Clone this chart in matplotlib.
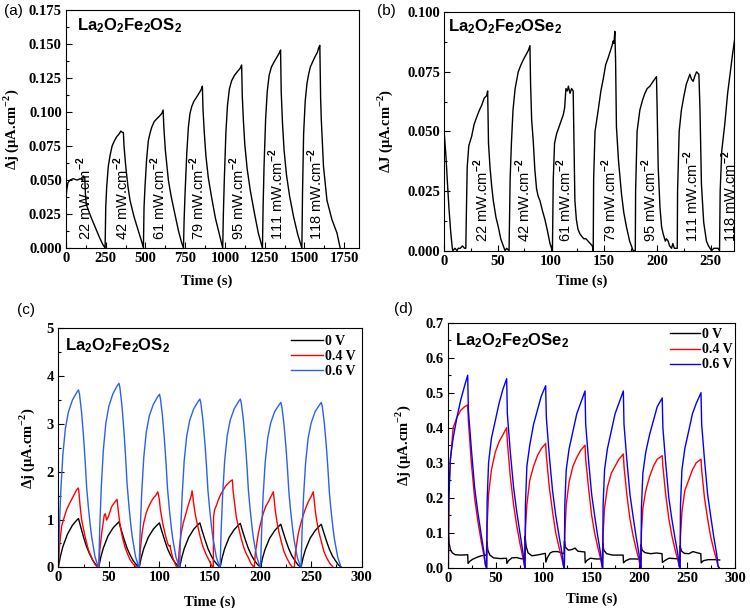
import matplotlib
matplotlib.use('Agg')
import matplotlib.pyplot as plt
from matplotlib.ticker import MultipleLocator, FormatStrFormatter, AutoMinorLocator

#
# Photocurrent response of La2O2Fe2OQ2 (Q = S, Se) films
#

plt.rcParams['font.family'] = 'Liberation Serif'
plt.rcParams['font.weight'] = 'bold'
plt.rcParams['mathtext.fontset'] = 'custom'
plt.rcParams['mathtext.rm'] = 'Liberation Serif:bold'
plt.rcParams['mathtext.bf'] = 'Liberation Sans:bold'
plt.rcParams['mathtext.sf'] = 'Liberation Sans'

#(a) La2O2Fe2OS2, different light intensities
a_time = [0, 5, 12, 25, 45, 70, 90, 105, 110, 118, 122, 128, 140, 160, 185, 210, 230, 246,
          250, 256, 266, 277, 290, 305, 320, 335, 345, 355, 361, 365, 376, 390, 403, 428, 460, 478, 487,
          491, 497, 507, 518, 530, 540, 555, 571, 588, 603, 611, 616, 625, 644, 660, 676, 707, 725, 739,
          743, 749, 760, 770, 780, 791, 805, 822, 843, 852, 858, 862, 870, 880, 895, 915, 940, 965, 986,
          990, 996, 1006, 1016, 1028, 1042, 1060, 1080, 1095, 1105, 1109, 1116, 1125, 1140, 1160, 1185, 1210, 1236,
          1240, 1246, 1256, 1266, 1278, 1292, 1310, 1330, 1345, 1350, 1354, 1362, 1372, 1387, 1407, 1432, 1458, 1484,
          1488, 1495, 1505, 1516, 1527, 1537, 1552, 1568, 1582, 1589, 1597, 1602, 1606, 1620, 1642, 1673, 1705, 1725]
a_dj = [.036, .043, .048, .050, .051, .050, .051, .050, .053, .052, .040, .032, .028, .022, .015, .008, .003, 0,
        .030, .045, .060, .068, .075, .079, .082, .084, .086, .085, .085, .075, .060, .045, .035, .023, .011, .004, 0,
        .030, .045, .065, .079, .085, .089, .093, .095, .097, .099, .1015, .088, .072, .050, .039, .030, .013, .005, 0,
        .020, .040, .070, .089, .099, .104, .108, .111, .115, .117, .119, .102, .085, .068, .052, .038, .022, .010, 0,
        .025, .050, .085, .105, .117, .123, .127, .130, .132, .1346, .112, .094, .076, .058, .042, .026, .011, 0,
        .030, .060, .095, .115, .127, .133, .137, .141, .144, .1456, .115, .092, .072, .054, .038, .023, .010, 0,
        .040, .084, .108, .121, .128, .133, .137, .141, .144, .147, .149, .110, .095, .060, .035, .021, .011, 0]
a_labels = ['22', '42', '61', '79', '95', '111', '118']
a_label_t = [52, 285, 518, 765, 1017, 1263, 1511]

#(b) La2O2Fe2OSe2, different light intensities
b_time = [0, 1.5, 3, 4.5, 6, 7.5, 8, 10, 12, 13, 15, 17, 19, 20.2,
          20.5, 21.5, 23, 25.7, 28, 30.4, 33, 35.1, 37.5, 39.7, 40.7, 41.5, 42.9, 44.5, 46, 48.5, 50.7, 53, 55.4, 57, 58.5, 60.8,
          61.8, 63, 64.5, 66.5, 69.4, 72, 74.1, 76.5, 78.9, 80.4, 81, 82, 83.5, 85, 86.6, 88, 89.8, 92, 94.5, 97, 99.2, 101.5,
          102.3, 103.5, 105.4, 108.5, 111.7, 113, 114.2, 115.5, 116.5, 118, 119.5, 121, 122, 122.6, 124, 125.5, 127.4, 129,
          131, 133, 135, 137, 139, 139.8,
          140.2, 141.5, 144.5, 147, 149.2, 151.5, 153.9, 156, 157.5, 158.6, 159.3, 160.1, 160.8, 161.6, 163.5, 166.3, 168.5,
          171, 174, 177.3, 179.3,
          179.6, 181, 183.6, 186, 188.3, 190.5, 193, 196, 199.2, 199.8, 200.8, 202.5, 204, 205.5, 207.5, 208.5, 210.2, 211.5,
          213.4, 214.5, 216, 218.7,
          219, 220.5, 222.6, 225, 227.3, 229, 230.5, 232, 233.6, 235, 236.8, 239, 240, 241.4, 243.5, 246.1, 248, 250.9,
          253, 255, 257, 258.4,
          259, 260.5, 263.3, 266, 268.5, 270.5, 272.7, 274]
b_dj = [.049, .040, .028, .017, .008, .001, 0, .001, 0, .001, .001, .002, .001, .001,
        .010, .035, .044, .048, .053, .056, .059, .061, .064, .065, .067, .045, .035, .027, .021, .014, .010, .005, .002, 0, .001, 0,
        .030, .045, .059, .068, .075, .078, .080, .082, .084, .086, .070, .055, .046, .034, .026, .023, .021, .017, .013, .008, .003, 0,
        .030, .045, .049, .053, .057, .060, .068, .067, .069, .066, .068, .067, .040, .021, .013, .009, .007, .006,
        .005, .005, .004, .003, .002, 0,
        .030, .050, .059, .067, .072, .078, .081, .084, .086, .088, .087, .092, .080, .052, .038, .024, .016,
        .010, .004, 0, 0,
        .025, .050, .059, .063, .066, .068, .069, .071, .073, .060, .035, .018, .010, .007, .004, .005, .004, .002,
        .001, .003, .001, .001,
        .025, .050, .059, .065, .070, .072, .074, .072, .071, .073, .075, .074, .060, .028, .012, .004, .002, 0,
        .001, .001, .001, 0,
        .025, .042, .053, .066, .075, .082, .089, .091]
b_labels = ['22', '42', '61', '79', '95', '111', '118']
b_label_t = [25.7, 64.8, 103.9, 146, 183.7, 222.8, 259.0]

#(c) La2O2Fe2OS2 at different bias
c_black_t = [0, 2, 4.5, 9, 14, 18, 20, 22, 25, 28, 31, 34, 37,
             40, 42, 44.5, 49, 54, 58, 60, 62, 65, 68, 71, 74, 77,
             80, 82, 84.5, 89, 94, 98, 100, 102, 105, 108, 111, 114, 117,
             120, 122, 124.5, 129, 134, 138, 140, 142, 145, 148, 151, 154, 157,
             160, 162, 164.5, 169, 174, 178, 180, 182, 185, 188, 191, 194, 197,
             200, 202, 204.5, 209, 214, 218, 220, 222, 225, 228, 231, 234, 237,
             240, 242, 244.5, 249, 254, 258, 260, 262, 265, 268, 271, 274, 277, 280]
c_black = [0, .22, .43, .69, .88, .98, 1.02, .86, .63, .43, .28, .15, .06,
           0, .21, .40, .65, .82, .91, .95, .80, .59, .40, .26, .14, .06,
           0, .20, .39, .63, .80, .89, .93, .78, .58, .39, .25, .14, .06,
           0, .20, .39, .63, .80, .89, .93, .78, .58, .39, .25, .14, .06,
           0, .20, .39, .63, .79, .88, .92, .77, .57, .39, .25, .14, .06,
           0, .20, .38, .61, .77, .86, .90, .76, .56, .38, .24, .14, .05,
           0, .20, .38, .61, .77, .86, .90, .76, .56, .38, .24, .14, .05, 0]

c_red_t = [0, 1, 3.3, 5.5, 8.3, 11, 13.2, 16, 18.1, 19.8, 20.3, 21.5, 23.1, 26.4, 29.7, 33, 36.3, 38.9,
           40.2, 41, 42.9, 45.5, 46.5, 47.8, 49.5, 52.8, 56.1, 58.1, 59.5, 61.1, 63.5, 66, 68.5, 71, 74, 77, 79.5,
           80.2, 81, 82.8, 84.5, 86.8, 89, 91.7, 94, 96.6, 98.3, 99.2, 99.9, 101, 103.2, 106.5, 108.5, 109.8, 110.5,
           111.5, 113.1, 116.4, 117.5,
           118.5, 119.5, 121.4, 123.5, 126.3, 128.5, 130.3, 131.5, 132.3, 133, 133.6, 135.5, 137.9, 140.5, 142.9,
           145.5, 147.8, 150, 151.5, 152.8,
           153.3, 153.5, 154.5, 156.5, 158.2, 160.5, 163.2, 165.5, 168.1, 170, 172.1, 172.8, 174.7, 176, 178, 180.5,
           183, 185.5, 187.9, 190.5, 192.8, 193.5,
           193.8, 194.8, 197.8, 200, 202.7, 205, 207.7, 210, 212.6, 213.3, 214.5, 215.9, 218, 220.8, 223, 225.8,
           228.5, 231.4,
           233.4, 234.4, 237.3, 239.8, 242.3, 244.8, 247.2, 250, 252.1, 252.8, 254, 255.4, 257.5, 260.4, 262.5,
           265.3, 268.5, 271.9]
c_red = [0, .40, .86, 1.02, 1.21, 1.33, 1.42, 1.53, 1.62, 1.66, 1.60, 1.30, .99, .65, .37, .20, .06, 0,
         0, .35, .71, 1.10, 1.12, .99, 1.06, 1.27, 1.37, 1.42, 1.15, .88, .62, .42, .28, .16, .07, .01, 0,
         0, .35, .71, .93, 1.13, 1.25, 1.37, 1.45, 1.51, 1.58, 1.50, 1.42, 1.20, .93, .62, .48, .44, .46,
         .34, .20, .03, 0,
         0, .35, .71, .92, 1.13, 1.30, 1.42, 1.50, 1.60, 1.50, 1.37, 1.10, .86, .62, .44,
         .30, .20, .10, .04, 0,
         0, 1.05, 1.20, 1.30, 1.41, 1.52, 1.62, 1.70, 1.76, 1.80, 1.83, 1.60, 1.27, 1.05, .86, .63,
         .44, .30, .20, .08, .02, 0,
         0, .30, .71, .92, 1.13, 1.27, 1.37, 1.47, 1.58, 1.45, 1.20, .99, .75, .51, .34, .20,
         .09, 0,
         0, .30, .71, .92, 1.10, 1.25, 1.37, 1.48, 1.58, 1.45, 1.20, .99, .75, .51, .34,
         .20, .08, 0]

c_blue_t = [0, 1, 2.5, 4.5, 7, 10, 14, 18, 20, 21, 23, 25, 26.5, 28, 29.7, 31.5, 33, 36.3, 39.6,
            40, 41, 42.5, 44.5, 47, 50, 54, 58, 60, 61, 63, 65, 66.5, 68, 69.7, 71.5, 73, 76.3, 79.6,
            80, 81, 82.5, 84.5, 87, 90, 94, 98, 100, 101, 103, 105, 106.5, 108, 109.7, 111.5, 113, 116.3, 119.6,
            120, 121, 122.5, 124.5, 127, 130, 134, 138, 140, 141, 143, 145, 146.5, 148, 149.7, 151.5, 153, 156.3, 159.6,
            160, 161, 162.5, 164.5, 167, 170, 174, 178, 180, 181, 183, 185, 186.5, 188, 189.7, 191.5, 193, 196.3, 199.6,
            200, 201, 202.5, 204.5, 207, 210, 214, 218, 220, 221, 223, 225, 226.5, 228, 229.7, 231.5, 233, 236.3, 239.6,
            240, 241, 242.5, 244.5, 247, 250, 254, 258, 260, 261, 263, 265, 266.5, 268, 269.7, 271.5, 273, 276.3, 279.6]
c_blue = [0, .80, 1.60, 2.35, 2.90, 3.25, 3.50, 3.65, 3.71, 3.62, 3.25, 2.73, 2.25, 1.69, 1.27, .90, .64, .22, 0,
          0, .83, 1.66, 2.44, 3.01, 3.37, 3.63, 3.79, 3.85, 3.75, 3.37, 2.83, 2.33, 1.75, 1.32, .93, .66, .23, 0,
          0, .78, 1.56, 2.29, 2.83, 3.17, 3.41, 3.56, 3.62, 3.53, 3.17, 2.66, 2.19, 1.65, 1.24, .88, .62, .22, 0,
          0, .76, 1.52, 2.23, 2.75, 3.08, 3.32, 3.46, 3.52, 3.43, 3.08, 2.59, 2.13, 1.60, 1.21, .85, .60, .21, 0,
          0, .76, 1.52, 2.23, 2.75, 3.08, 3.32, 3.46, 3.52, 3.43, 3.08, 2.59, 2.13, 1.60, 1.21, .85, .60, .21, 0,
          0, .74, 1.49, 2.18, 2.70, 3.02, 3.26, 3.39, 3.45, 3.37, 3.02, 2.54, 2.09, 1.57, 1.18, .84, .59, .21, 0,
          0, .74, 1.49, 2.18, 2.70, 3.02, 3.26, 3.39, 3.45, 3.37, 3.02, 2.54, 2.09, 1.57, 1.18, .84, .59, .21, 0]

#(d) La2O2Fe2OSe2 at different bias
d_black_t = [0, 0.7, 1.5, 3, 5, 8, 14, 20.9, 21.3, 23, 26, 30, 35, 40.5,
             40.8, 42, 44, 48, 55, 61.4, 61.8, 63.5, 67, 72, 76, 80.5,
             80.8, 82, 84, 88, 95, 102, 102.5, 104, 107, 110, 115, 119, 121.6,
             121.9, 123, 126, 130, 133, 136, 143.2, 143.6, 145.5, 149, 155, 161.6,
             161.9, 163, 166, 172, 183.2, 183.6, 186, 190, 196, 201.6,
             201.9, 203, 206, 212, 218, 223.8, 224.2, 226.5, 231, 237, 242.4,
             242.7, 244, 247, 252, 256, 260, 264.3, 264.7, 267, 272, 278, 284]
d_black = [0, .098, .070, .050, .042, .037, .036, .037, .012, .018, .024, .029, .034, .036,
           .074, .050, .036, .028, .026, .027, .012, .020, .028, .029, .026, .025,
           .090, .060, .042, .034, .037, .041, .016, .028, .042, .046, .046, .042, .040,
           .076, .058, .050, .052, .056, .047, .045, .014, .021, .027, .025, .025,
           .070, .050, .040, .036, .036, .014, .020, .025, .025, .024,
           .066, .050, .043, .040, .042, .040, .015, .020, .027, .026, .025,
           .062, .048, .041, .040, .046, .043, .040, .014, .020, .023, .023, .022]

d_time = [0.7, 1.2, 2.7, 5.7, 9.7, 13.7, 17.7, 20.9, 21.6, 24.7, 28.1, 31.4, 34.7, 37.9, 39.6, 40.6,
          40.7, 41.2, 42.7, 45.7, 49.7, 53.7, 57.7, 61.6, 62.3, 65.4, 68.8, 72.1, 75.4, 78.6, 80.3, 80.6,
          80.7, 81.2, 82.7, 85.7, 89.7, 93.7, 97.7, 102.3, 103, 106.1, 109.5, 112.8, 116.1, 119.3, 121, 121.7,
          121.8, 122.3, 123.8, 126.8, 130.8, 134.8, 138.8, 143.4, 144.1, 147, 150.3, 153.4, 156.6, 159.7, 161.2, 161.7,
          161.8, 162.3, 163.8, 166.8, 170.8, 174.8, 178.8, 183.4, 184.1, 187, 190.3, 193.4, 196.6, 199.7, 201.2, 201.7,
          201.8, 202.3, 203.8, 206.8, 210.8, 214.8, 218.8, 224, 224.7, 227.6, 230.9, 234, 237.2, 240.3, 241.8, 242.5,
          242.6, 243.1, 244.6, 247.6, 251.6, 255.6, 259.6, 264.5, 265.2, 268.1, 271.4, 274.5, 277.7, 280.8, 282.3, 283.5]
d_red = [0, .21, .30, .40, .43, .45, .46, .465, .42, .30, .20, .135, .08, .033, .005, 0,
         0, .12, .21, .28, .33, .36, .38, .40, .36, .26, .18, .12, .07, .028, .004, 0,
         0, .11, .18, .25, .29, .32, .34, .355, .32, .23, .16, .10, .06, .025, .004, 0,
         0, .10, .18, .245, .29, .315, .335, .35, .31, .23, .15, .10, .06, .025, .004, 0,
         0, .10, .17, .23, .27, .29, .31, .325, .29, .21, .14, .094, .055, .023, .003, 0,
         0, .10, .17, .22, .26, .29, .31, .32, .29, .21, .14, .093, .054, .022, .003, 0,
         0, .09, .16, .22, .25, .28, .30, .31, .28, .20, .14, .09, .053, .022, .003, 0]
d_blue = [0, .19, .31, .37, .43, .48, .52, .55, .45, .34, .23, .16, .10, .044, .006, 0,
          0, .19, .30, .37, .42, .47, .51, .54, .44, .33, .23, .16, .10, .043, .005, 0,
          0, .18, .29, .35, .41, .45, .49, .52, .43, .32, .22, .15, .094, .042, .005, 0,
          0, .18, .28, .34, .39, .44, .47, .505, .41, .31, .21, .15, .091, .040, .005, 0,
          0, .18, .28, .34, .39, .44, .47, .505, .41, .31, .21, .15, .091, .040, .005, 0,
          0, .17, .27, .33, .38, .42, .46, .485, .40, .30, .20, .14, .087, .039, .005, 0,
          0, .18, .28, .34, .39, .44, .47, .50, .41, .31, .21, .15, .09, .04, .005, 0]

bias_labels = ['0 V', '0.4 V', '0.6 V']

ylab_j = u'\u0394j (\u03bcA.cm$^{-2}$)'
ylab_J = u'\u0394J (\u03bcA.cm$^{-2}$)'
formula_S = r'$\mathbf{La_2O_2Fe_2OS_2}$'
formula_Se = r'$\mathbf{La_2O_2Fe_2OSe_2}$'


def style_axes(ax, xmax, xstep, ymax, ystep, yfmt, ylab):
    ax.set_xlim(0, xmax)
    ax.set_ylim(0, ymax)
    ax.xaxis.set_major_locator(MultipleLocator(xstep))
    ax.yaxis.set_major_locator(MultipleLocator(ystep))
    ax.xaxis.set_minor_locator(AutoMinorLocator(2))
    ax.yaxis.set_minor_locator(AutoMinorLocator(2))
    ax.yaxis.set_major_formatter(FormatStrFormatter(yfmt))
    ax.tick_params(which='major', direction='in', length=4, width=0.8, labelsize=10.5, pad=3)
    ax.tick_params(which='minor', direction='in', length=2, width=0.8)
    for lbl in ax.get_xticklabels() + ax.get_yticklabels():
        lbl.set_fontweight('bold')
    for s in ax.spines.values():
        s.set_linewidth(0.8)
    ax.set_xlabel('Time (s)', fontsize=10.5, fontweight='bold')
    ax.set_ylabel(ylab, fontsize=10.5, fontweight='bold')


fig = plt.figure(figsize=(7.5, 6.08), dpi=100)

#Panel (a)
ax = fig.add_axes([0.088, 0.592, 0.391, 0.3915])
ax.plot(a_time, a_dj, color='black', linewidth=1.0)
style_axes(ax, 1845, 250, 0.175, 0.025, '%.3f', ylab_j)
for lab, t in zip(a_labels, a_label_t):
    ax.text(t, 0.006, lab + r' mW.cm$^{\mathsf{-2}}$', rotation=90, ha='left', va='bottom',
            family='Liberation Sans', weight='normal', fontsize=10.5)
ax.text(0.036, 0.972, formula_S, transform=ax.transAxes, ha='left', va='top', fontsize=12)
ax.xaxis.set_label_coords(0.48, -0.113)
ax.yaxis.set_label_coords(-0.152, 0.5)
fig.text(0.005, 0.982, '(a)', family='Liberation Sans', weight='normal', fontsize=11, va='center')

#Panel (b)
ax = fig.add_axes([0.5924, 0.5877, 0.3863, 0.3921])
ax.plot(b_time, b_dj, color='black', linewidth=1.0)
style_axes(ax, 272, 50, 0.100, 0.025, '%.3f', ylab_J)
for lab, t in zip(b_labels, b_label_t):
    ax.text(t, 0.0038, lab + r' mW.cm$^{\mathsf{-2}}$', rotation=90, ha='left', va='bottom',
            family='Liberation Sans', weight='normal', fontsize=10.5)
ax.text(0.014, 0.98, formula_Se, transform=ax.transAxes, ha='left', va='top', fontsize=12)
ax.xaxis.set_label_coords(0.474, -0.102)
ax.yaxis.set_label_coords(-0.17, 0.5)
fig.text(0.503, 0.982, '(b)', family='Liberation Sans', weight='normal', fontsize=11, va='center')

#Panel (c)
ax = fig.add_axes([0.0777, 0.0669, 0.4046, 0.3931])
ax.plot(c_black_t, c_black, color='black', linewidth=1.0, label=bias_labels[0])
ax.plot(c_red_t, c_red, color='#ff0000', linewidth=1.0, label=bias_labels[1])
ax.plot(c_blue_t, c_blue, color='#2b60f0', linewidth=1.0, label=bias_labels[2])
style_axes(ax, 300, 50, 5, 1, '%d', ylab_j)
ax.text(0.022, 0.965, formula_S, transform=ax.transAxes, ha='left', va='top', fontsize=12)
ax.legend(loc='upper right', frameon=False, fontsize=10, handlelength=2.3, handletextpad=0.15,
          labelspacing=0.15, borderaxespad=0.05)
ax.xaxis.set_label_coords(0.5, -0.116)
ax.yaxis.set_label_coords(-0.07, 0.5)
fig.text(0.022, 0.49, '(c)', family='Liberation Sans', weight='normal', fontsize=11, va='center')

#Panel (d)
ax = fig.add_axes([0.5969, 0.0663, 0.3831, 0.4029])
ax.plot(d_black_t, d_black, color='black', linewidth=1.0, label=bias_labels[0])
ax.plot(d_time, d_red, color='#ff0000', linewidth=1.0, label=bias_labels[1])
ax.plot(d_time, d_blue, color='#0000ff', linewidth=1.0, label=bias_labels[2])
style_axes(ax, 300, 50, 0.7, 0.1, '%.1f', ylab_j)
ax.text(0.025, 0.963, formula_Se, transform=ax.transAxes, ha='left', va='top', fontsize=12)
ax.legend(loc='upper right', bbox_to_anchor=(1.01, 1.0), frameon=False, fontsize=10,
          handlelength=2.1, handletextpad=0.15, labelspacing=0.15, borderaxespad=0.0)
ax.xaxis.set_label_coords(0.5, -0.103)
ax.yaxis.set_label_coords(-0.121, 0.5)
fig.text(0.525, 0.492, '(d)', family='Liberation Sans', weight='normal', fontsize=11, va='center')

fig.savefig('out.png', dpi=100)
